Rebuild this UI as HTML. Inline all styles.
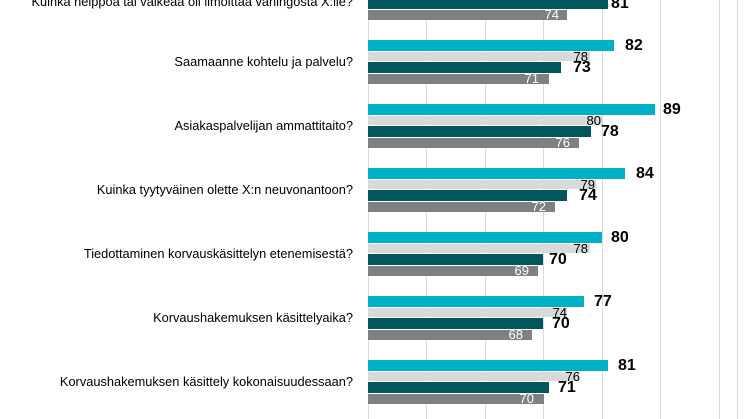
<!DOCTYPE html><html><head><meta charset="utf-8"><style>
body{margin:0;width:746px;height:419px;background:#fff;overflow:hidden;position:relative;font-family:"Liberation Sans",sans-serif}
div{position:absolute}
.g{top:0;height:419px;width:1px;background:#d9d9d9}
.c{background:#00b0c8;height:11px;left:368px}
.l{background:#d9d9d9;height:9px;left:368px}
.d{background:#015660;height:11px;left:368px}
.y{background:#808080;height:10px;left:368px}
.q{right:393px;font-size:12.8px;line-height:16px;color:#000;white-space:nowrap}
.bc,.bd{font-weight:bold;font-size:16px;line-height:16px;color:#000}
.tl{font-size:13px;line-height:14px;color:#000;width:40px;text-align:right}
.tg{font-size:13px;line-height:14px;color:#fff;width:40px;text-align:right}
</style></head><body>
<div class="g" style="left:368px"></div><div class="g" style="left:426px"></div><div class="g" style="left:485px"></div><div class="g" style="left:543px"></div><div class="g" style="left:602px"></div><div class="g" style="left:660px"></div><div class="g" style="left:719px"></div><div class="g" style="left:737px"></div>

<div class="q" style="top:-6px">Kuinka helppoa tai vaikeaa oli ilmoittaa vahingosta X:lle?</div>
<div class="d" style="top:-2px;width:240px"></div><div class="bd" style="left:611px;top:-4px">81</div>
<div class="y" style="top:10px;width:199px"></div><div class="tg" style="left:519px;top:8px">74</div>

<div class="q" style="top:54px">Saamaanne kohtelu ja palvelu?</div>
<div class="c" style="top:40px;width:246px"></div><div class="bc" style="left:625px;top:38px">82</div>
<div class="l" style="top:52px;width:222px"></div><div class="tl" style="left:548px;top:50px">78</div>
<div class="d" style="top:62px;width:193px"></div><div class="bd" style="left:573px;top:60px">73</div>
<div class="y" style="top:74px;width:181px"></div><div class="tg" style="left:499px;top:72px">71</div>

<div class="q" style="top:118px">Asiakaspalvelijan ammattitaito?</div>
<div class="c" style="top:104px;width:287px"></div><div class="bc" style="left:663px;top:102px">89</div>
<div class="l" style="top:116px;width:234px"></div><div class="tl" style="left:561px;top:114px">80</div>
<div class="d" style="top:126px;width:223px"></div><div class="bd" style="left:601px;top:124px">78</div>
<div class="y" style="top:138px;width:211px"></div><div class="tg" style="left:530px;top:136px">76</div>

<div class="q" style="top:182px">Kuinka tyytyväinen olette X:n neuvonantoon?</div>
<div class="c" style="top:168px;width:257px"></div><div class="bc" style="left:636px;top:166px">84</div>
<div class="l" style="top:180px;width:228px"></div><div class="tl" style="left:555px;top:178px">79</div>
<div class="d" style="top:190px;width:199px"></div><div class="bd" style="left:579px;top:188px">74</div>
<div class="y" style="top:202px;width:187px"></div><div class="tg" style="left:506px;top:200px">72</div>

<div class="q" style="top:246px">Tiedottaminen korvauskäsittelyn etenemisestä?</div>
<div class="c" style="top:232px;width:234px"></div><div class="bc" style="left:611px;top:230px">80</div>
<div class="l" style="top:244px;width:222px"></div><div class="tl" style="left:548px;top:242px">78</div>
<div class="d" style="top:254px;width:175px"></div><div class="bd" style="left:549px;top:252px">70</div>
<div class="y" style="top:266px;width:170px"></div><div class="tg" style="left:489px;top:264px">69</div>

<div class="q" style="top:310px">Korvaushakemuksen käsittelyaika?</div>
<div class="c" style="top:296px;width:216px"></div><div class="bc" style="left:594px;top:294px">77</div>
<div class="l" style="top:308px;width:199px"></div><div class="tl" style="left:527px;top:306px">74</div>
<div class="d" style="top:318px;width:175px"></div><div class="bd" style="left:552px;top:316px">70</div>
<div class="y" style="top:330px;width:164px"></div><div class="tg" style="left:483px;top:328px">68</div>

<div class="q" style="top:374px">Korvaushakemuksen käsittely kokonaisuudessaan?</div>
<div class="c" style="top:360px;width:240px"></div><div class="bc" style="left:618px;top:358px">81</div>
<div class="l" style="top:372px;width:211px"></div><div class="tl" style="left:540px;top:370px">76</div>
<div class="d" style="top:382px;width:181px"></div><div class="bd" style="left:558px;top:380px">71</div>
<div class="y" style="top:394px;width:176px"></div><div class="tg" style="left:494px;top:392px">70</div>
</body></html>
